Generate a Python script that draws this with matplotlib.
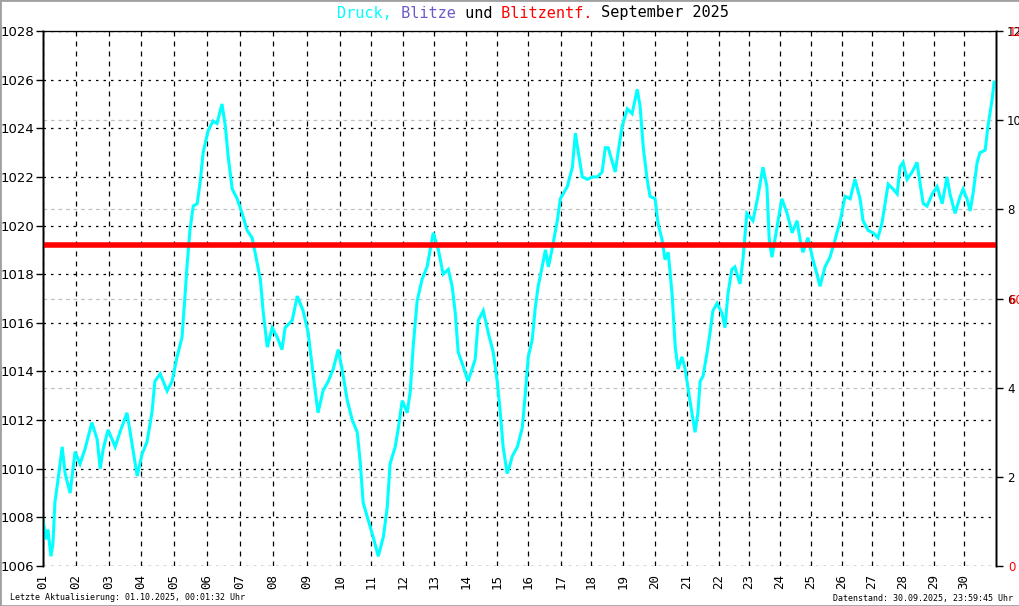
import matplotlib

matplotlib.use("Agg")

import matplotlib.pyplot as plt
import numpy as np
from matplotlib.patches import Rectangle

# Anzahl Messwerte je Tag (bestimmt die Breite der Tagesspalten)
samples_per_day = [149, 149, 144, 149, 149, 149, 149, 153, 149, 140,
                   144, 140, 144, 140, 140, 149, 135, 144, 144, 144,
                   144, 135, 140, 140, 140, 135, 140, 140, 135, 144]
day_labels = [f"{d:02d}" for d in range(1, 31)]

# Zeit als Tag des Monats (1.0 = 01.09. 00:00), Luftdruck in hPa
time_day = [
    1.00, 1.09, 1.15, 1.24, 1.30, 1.36, 1.45, 1.58, 1.67, 1.82, 1.97,
    2.12, 2.27, 2.48, 2.64, 2.73, 2.82, 2.97,
    3.19, 3.34, 3.56, 3.66, 3.88,
    4.03, 4.18, 4.33, 4.42, 4.58, 4.79, 4.94,
    5.09, 5.24, 5.33, 5.39, 5.48, 5.58, 5.70, 5.79, 5.88,
    6.03, 6.18, 6.30, 6.45, 6.55, 6.64, 6.76, 6.91,
    7.06, 7.21, 7.36, 7.45, 7.61, 7.70, 7.82, 7.97,
    8.12, 8.26, 8.35, 8.56, 8.71, 8.88,
    9.03, 9.18, 9.33, 9.48, 9.64, 9.79, 9.94,
    10.06, 10.23, 10.39, 10.55, 10.65, 10.74, 10.90,
    11.06, 11.22, 11.38, 11.50, 11.59, 11.75, 11.84, 11.97,
    12.13, 12.23, 12.32, 12.45, 12.61, 12.77, 12.87, 12.97,
    13.13, 13.28, 13.44, 13.56, 13.66, 13.75, 13.91,
    14.06, 14.19, 14.29, 14.39, 14.55, 14.71, 14.87,
    15.00, 15.10, 15.19, 15.32, 15.42, 15.48, 15.65, 15.81, 15.90,
    16.00, 16.12, 16.21, 16.30, 16.42, 16.52, 16.61, 16.73, 16.88, 16.97,
    17.20, 17.37, 17.47, 17.57, 17.70, 17.87,
    18.03, 18.19, 18.34, 18.44, 18.53, 18.66, 18.75, 18.84, 18.97,
    19.13, 19.28, 19.44, 19.53, 19.63, 19.75, 19.84,
    20.00, 20.09, 20.22, 20.31, 20.41, 20.53, 20.63, 20.72, 20.84, 20.94,
    21.09, 21.25, 21.34, 21.41, 21.50, 21.63, 21.72, 21.81, 21.94,
    22.10, 22.20, 22.30, 22.43, 22.53, 22.70, 22.80, 22.93,
    23.13, 23.29, 23.45, 23.58, 23.65, 23.74, 23.90,
    24.06, 24.23, 24.39, 24.55, 24.65, 24.74, 24.90,
    25.06, 25.19, 25.29, 25.45, 25.61, 25.77, 25.94,
    26.10, 26.27, 26.43, 26.60, 26.70, 26.87,
    27.03, 27.19, 27.32, 27.42, 27.52, 27.68, 27.81, 27.90,
    28.00, 28.13, 28.29, 28.45, 28.55, 28.65, 28.77, 28.94,
    29.10, 29.27, 29.43, 29.53, 29.70, 29.87, 29.97,
    30.09, 30.19, 30.28, 30.41, 30.50, 30.66, 30.75, 30.88, 30.94,
]
pressure_hpa = [
    1007.9, 1007.1, 1007.5, 1006.4, 1006.9, 1008.6, 1009.5, 1010.9, 1009.8, 1009.0, 1010.7,
    1010.2, 1010.8, 1011.9, 1011.2, 1010.0, 1010.8, 1011.6,
    1010.9, 1011.5, 1012.3, 1011.5, 1009.7,
    1010.6, 1011.1, 1012.3, 1013.6, 1013.9, 1013.2, 1013.6,
    1014.6, 1015.4, 1017.1, 1018.3, 1019.8, 1020.8, 1020.9, 1021.8, 1023.0,
    1023.9, 1024.3, 1024.2, 1025.0, 1024.1, 1022.8, 1021.5, 1021.1,
    1020.5, 1019.8, 1019.5, 1018.9, 1017.8, 1016.4, 1015.0, 1015.8,
    1015.4, 1014.9, 1015.8, 1016.1, 1017.1, 1016.5,
    1015.6, 1013.9, 1012.3, 1013.2, 1013.6, 1014.1, 1014.9,
    1014.1, 1012.8, 1012.0, 1011.5, 1010.2, 1008.6, 1007.9,
    1007.2, 1006.4, 1007.2, 1008.4, 1010.2, 1010.9, 1011.6, 1012.8,
    1012.3, 1013.2, 1015.0, 1016.9, 1017.8, 1018.3, 1019.0, 1019.7,
    1019.0, 1018.0, 1018.2, 1017.5, 1016.4, 1014.8, 1014.2,
    1013.6, 1014.1, 1014.5, 1016.1, 1016.5, 1015.6, 1014.8,
    1013.6, 1012.3, 1010.9, 1009.8, 1010.2, 1010.5, 1010.9, 1011.7, 1013.0,
    1014.6, 1015.3, 1016.6, 1017.5, 1018.3, 1019.0, 1018.3, 1019.1, 1020.2, 1021.1,
    1021.6, 1022.4, 1023.8, 1023.0, 1022.0, 1021.9,
    1022.0, 1022.0, 1022.2, 1023.2, 1023.2, 1022.6, 1022.2, 1023.0, 1024.1,
    1024.8, 1024.6, 1025.6, 1024.9, 1023.2, 1021.9, 1021.2,
    1021.1, 1020.1, 1019.4, 1018.6, 1018.9, 1017.2, 1015.0, 1014.1, 1014.6, 1014.1,
    1012.8, 1011.5, 1012.3, 1013.6, 1013.8, 1014.8, 1015.6, 1016.5, 1016.8,
    1016.4, 1015.8, 1017.2, 1018.2, 1018.3, 1017.6, 1018.6, 1020.5,
    1020.2, 1021.2, 1022.4, 1021.6, 1019.5, 1018.7, 1019.9,
    1021.1, 1020.5, 1019.7, 1020.2, 1019.4, 1018.9, 1019.5,
    1018.6, 1018.0, 1017.5, 1018.3, 1018.7, 1019.4, 1020.2,
    1021.2, 1021.1, 1021.9, 1021.1, 1020.2, 1019.8,
    1019.7, 1019.5, 1020.1, 1020.9, 1021.7, 1021.5, 1021.3, 1022.4,
    1022.6, 1021.9, 1022.2, 1022.6, 1021.7, 1020.9, 1020.8, 1021.3,
    1021.6, 1020.9, 1022.0, 1021.3, 1020.5, 1021.2, 1021.5,
    1021.1, 1020.6, 1021.3, 1022.6, 1023.0, 1023.1, 1024.1, 1025.2, 1025.9,
]

# Blitzentfernung (km), ueber den ganzen Monat konstant
blitz_time = [1.0, 31.0]
blitz_dist_km = [72.0, 72.0]

CYAN = "#00ffff"
BLUE = "#6a5acd"
RED = "#ff0000"


def main():
    edges = np.arange(1, 32)
    cum = np.concatenate([[0], np.cumsum(samples_per_day)])

    def fwd(d):
        return np.interp(d, edges, cum)

    def inv(s):
        return np.interp(s, cum, edges)

    fig = plt.figure(figsize=(10.2, 6.06), dpi=100)
    ax = fig.add_axes([43 / 1020, 40 / 606, 953 / 1020, 535 / 606])
    ax.set_xscale("function", functions=(fwd, inv))
    ax.set_xlim(1, 31)
    ax.set_ylim(1006, 1028)

    ax_r = ax.twinx()
    ax_red = ax.twinx()
    ax_r.set_zorder(0)
    ax.set_zorder(1)
    ax_red.set_zorder(2)
    ax.patch.set_visible(False)
    ax_red.patch.set_visible(False)

    # Gitter
    ax.set_xticks(range(1, 31))
    ax.set_xticklabels(day_labels, rotation=90, family="DejaVu Sans Mono", fontsize=9)
    ax.tick_params(axis="x", length=0, pad=6)
    ax.set_yticks(range(1006, 1029, 2))
    ax.tick_params(axis="y", direction="out", length=5, width=1, labelsize=9.5, pad=1)
    ax.grid(True, axis="x", color="black", linestyle=(0, (4, 4)), linewidth=0.9)
    ax.grid(True, axis="y", color="black", linestyle=(0, (2, 4)), linewidth=0.9)

    ax_r.set_ylim(0, 12)
    ax_r.set_yticks(range(0, 13, 2))
    ax_r.set_yticklabels([""] + [str(v) for v in range(2, 13, 2)])
    ax_r.tick_params(axis="y", direction="out", length=5, width=1, labelsize=8.5, pad=3)
    ax_r.grid(True, axis="y", color="#c0c0c0", linestyle=(0, (3, 3)), linewidth=0.9)

    ax_red.set_ylim(0, 120)
    ax_red.set_yticks([0, 60, 120])
    ax_red.tick_params(axis="y", length=0, labelsize=8.5, labelcolor=RED, pad=9)

    for a in (ax, ax_r, ax_red):
        a.spines["bottom"].set_visible(False)
        a.spines["top"].set_visible(True)
        a.spines["left"].set_linewidth(1)
        a.spines["right"].set_linewidth(1)

    ax.plot(time_day, pressure_hpa, color=CYAN, linewidth=2.2, solid_joinstyle="miter")
    ax_red.plot(blitz_time, blitz_dist_km, color=RED, linewidth=4)

    # Titel aus farbigen Teilen
    parts = [("Druck,", CYAN), (" Blitze", BLUE), (" und", "black"),
             (" Blitzentf.", RED), (" September 2025", "black")]
    prev = fig.text(337 / 1020, 1 - 13 / 606, parts[0][0], color=parts[0][1],
                    family="DejaVu Sans Mono", fontsize=11, va="center", ha="left")
    for txt, col in parts[1:]:
        prev = ax.annotate(txt, xy=(1, 0), xycoords=prev, va="bottom", ha="left",
                           color=col, family="DejaVu Sans Mono", fontsize=11,
                           annotation_clip=False)

    fig.text(10 / 1020, 1 - 598 / 606, "Letzte Aktualisierung: 01.10.2025, 00:01:32 Uhr",
             family="DejaVu Sans Mono", fontsize=6, va="center", ha="left")
    fig.text(1013 / 1020, 1 - 598 / 606, "Datenstand: 30.09.2025, 23:59:45 Uhr",
             family="DejaVu Sans Mono", fontsize=6, va="center", ha="right")

    fig.patches.append(Rectangle((0, 0), 1, 1, transform=fig.transFigure, fill=False,
                                 edgecolor="#a0a0a0", linewidth=2))

    fig.savefig("out.png", dpi=100)
    plt.close(fig)


if __name__ == "__main__":
    main()
